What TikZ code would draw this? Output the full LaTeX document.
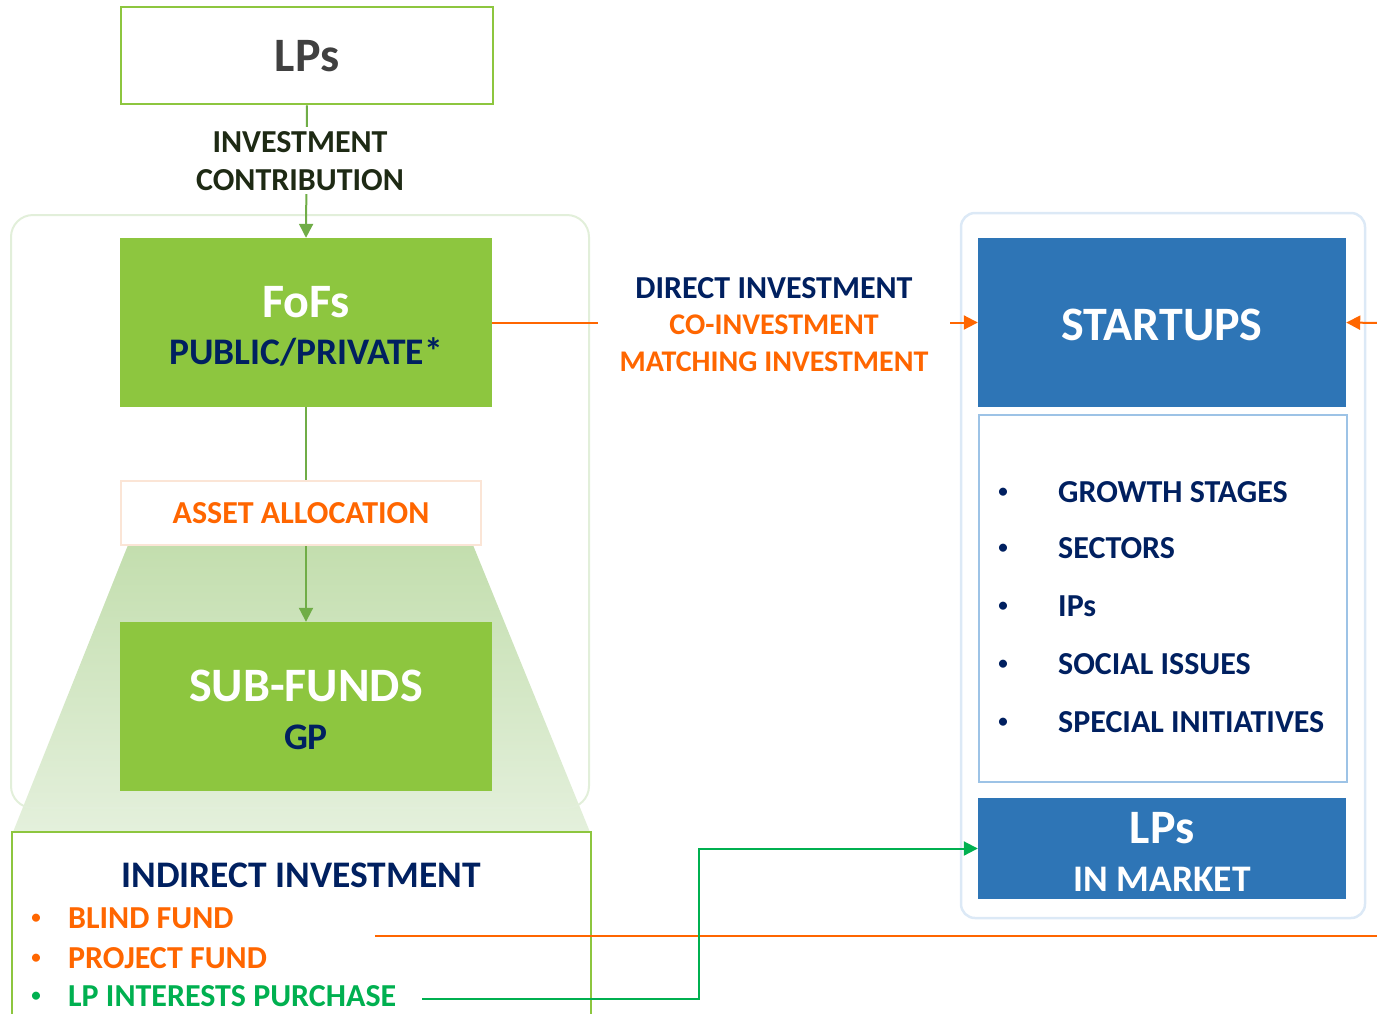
\documentclass[tikz,border=0pt]{standalone}
\usepackage{fontspec}
\setmainfont{Carlito}
\usetikzlibrary{arrows.meta,positioning}
\definecolor{lgreen}{HTML}{8DC63F}
\definecolor{agreen}{HTML}{70AD47}
\definecolor{navy}{HTML}{002060}
\definecolor{orng}{HTML}{FF6600}
\definecolor{lpgreen}{HTML}{00B050}
\definecolor{sblue}{HTML}{2E75B6}
\definecolor{lblue}{HTML}{9DC3E6}
\definecolor{pblue}{HTML}{DCE9F6}
\definecolor{pgreen}{HTML}{E2EFDA}
\definecolor{porange}{HTML}{FBE5D6}
\definecolor{dgray}{HTML}{404040}
\definecolor{dkgreen}{HTML}{1E2A14}
\definecolor{shtop}{HTML}{C3DEAE}
\definecolor{shmid}{HTML}{C9E2B7}
\definecolor{shbot}{HTML}{E4F0DC}
\tikzset{
  x=1pt, y=-1pt,
  box/.style={rectangle, inner sep=0pt, font=\bfseries},
  greenbox/.style={box, fill=lgreen},
  bluebox/.style={box, fill=sblue},
  tip/.style={-{Triangle[length=14pt,width=14pt]}},
  garrow/.style={draw=agreen, line width=2pt, tip},
  oline/.style={draw=orng, line width=2pt},
  oarrow/.style={oline, tip},
  lparrow/.style={draw=lpgreen, line width=2pt, tip},
  txt/.style={inner sep=0pt, anchor=base, align=center},
  big/.style={font=\fontsize{48}{52}\bfseries\selectfont},
  mid/.style={font=\fontsize{37.5}{40}\bfseries\selectfont},
  small/.style={font=\fontsize{32}{37}\bfseries\selectfont},
  item/.style={inner sep=0pt, anchor=base west, small},
  bul/.style={inner sep=0pt, anchor=base, font=\fontsize{19}{20}\bfseries\selectfont},
}
\begin{document}
\begin{tikzpicture}
\useasboundingbox (0,0) rectangle (1377,1013);
% gradient trapezoid
\shade[top color=shtop, middle color=shmid, bottom color=shbot] (128,545) -- (473,545) -- (590,832) -- (13,832) -- cycle;
% containers
\draw[pgreen, line width=2pt, rounded corners=22pt] (11,215) rectangle (589,808);
\draw[pblue, line width=2.5pt, rounded corners=14pt] (961,213) rectangle (1365,918);
% left column
\node[box, draw=lgreen, line width=2.5pt, minimum width=372pt, minimum height=97pt] (lps) at (307,55.5) {};
\node[txt, text=dgray, big] (lpsT) at (307,71) {LPs};
\node[greenbox, minimum width=372pt, minimum height=169pt] (fofs) at (306,322.5) {};
\node[txt, text=white, big] (fofsT) at (306,317) {FoFs};
\node[txt, text=navy, mid] (fofsS) at (306,364) {PUBLIC/PRIVATE*};
\node[box, draw=porange, line width=2pt, fill=white, minimum width=360pt, minimum height=64pt] (asset) at (301,513) {};
\node[txt, text=orng, small] (assetT) at (301,523) {ASSET ALLOCATION};
\node[greenbox, minimum width=372pt, minimum height=169pt] (sub) at (306,706.5) {};
\node[txt, text=white, big] (subT) at (306,701) {SUB-FUNDS};
\node[txt, text=navy, mid] (subS) at (306,749) {GP};
% indirect investment box (cut at bottom)
\draw[lgreen, line width=2.5pt] (12,1020) -- (12,832) -- (591,832) -- (591,1020);
\node[txt, text=navy, mid] (indirect) at (301,887) {INDIRECT INVESTMENT};
\node[bul, text=orng] (b1) at (36,923) {•};
\node[item, text=orng] (blind) at (68,928) {BLIND FUND};
\node[bul, text=orng] (b2) at (36,963) {•};
\node[item, text=orng] (project) at (68,968) {PROJECT FUND};
\node[bul, text=lpgreen] (b3) at (36,1001) {•};
\node[item, text=lpgreen] (lpint) at (68,1006) {LP INTERESTS PURCHASE};
% right column
\node[bluebox, minimum width=368pt, minimum height=169pt] (startups) at (1162,322.5) {};
\node[txt, text=white, big] (startT) at (1162,340) {STARTUPS};
\node[box, draw=lblue, line width=1.5pt, fill=white, minimum width=368pt, minimum height=367pt] (list) at (1163,598.5) {};
\foreach \yy/\t [count=\i] in {502/GROWTH STAGES, 558/SECTORS, 616/IPs, 674/SOCIAL ISSUES, 732/SPECIAL INITIATIVES}{
  \node[bul, text=navy] (lb\i) at (1003,\yy-5) {•};
  \node[item, text=navy] (li\i) at (1058,\yy) {\t};
}
\node[bluebox, minimum width=368pt, minimum height=101pt] (lpm) at (1162,848.5) {};
\node[txt, text=white, big] (lpmT) at (1162,843) {LPs};
\node[txt, text=white, mid] (lpmS) at (1162,891) {IN MARKET};
% connectors
\draw[garrow] (lps.south) -- (fofs.north);
\node[fill=white, inner xsep=2pt, inner ysep=4pt, anchor=base, align=center, text=dkgreen,
      font=\fontsize{32}{38}\bfseries\selectfont] (contrib) at (300,190) {INVESTMENT\\CONTRIBUTION};
\draw[agreen, line width=2pt] (fofs.south) -- (asset.north -| fofs.south);
\draw[garrow] (asset.south -| sub.north) -- (sub.north);
\draw[oarrow] (fofs.east) -- (startups.west);
\node[fill=white, inner xsep=0pt, inner ysep=3pt, minimum width=352pt, anchor=base, align=center,
      font=\fontsize{30}{36.5}\bfseries\selectfont] (direct) at (774,371)
  {\textcolor{navy}{\fontsize{32}{36.5}\selectfont DIRECT INVESTMENT}\\\textcolor{orng}{CO-INVESTMENT}\\\textcolor{orng}{MATCHING INVESTMENT}};
\coordinate (rin) at (1380,323);
\draw[oarrow] (rin) -- (startups.east);
\coordinate (ostart) at (375,936);
\coordinate (oend) at (1380,936);
\draw[oline] (ostart) -- (oend);
\coordinate (gstart) at (422,999);
\draw[lparrow] (gstart) -- (699,999) |- (lpm.west);
\end{tikzpicture}
\end{document}
